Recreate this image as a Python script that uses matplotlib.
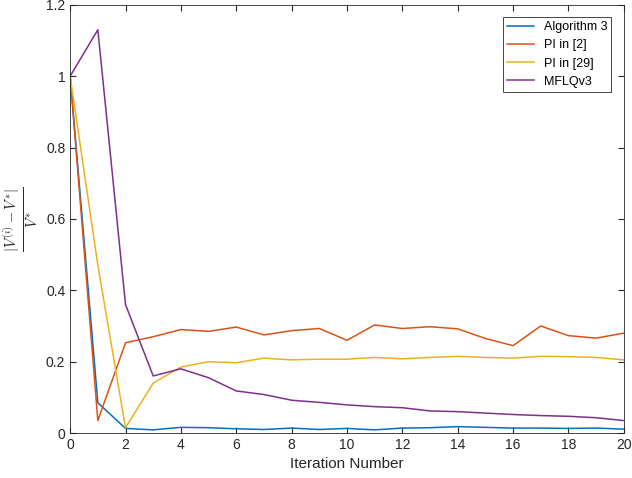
import matplotlib
matplotlib.use("Agg")
import matplotlib.pyplot as plt

plt.rcParams['font.family'] = ['Liberation Sans', 'DejaVu Sans']
plt.rcParams['mathtext.fontset'] = 'cm'

iters = list(range(21))
alg3 = [1, 0.085, 0.013, 0.009, 0.016, 0.015, 0.012, 0.010, 0.014, 0.010, 0.013, 0.009, 0.014, 0.015, 0.018, 0.016, 0.014, 0.014, 0.013, 0.014, 0.011]
pi2 = [1, 0.035, 0.253, 0.270, 0.290, 0.285, 0.297, 0.275, 0.287, 0.293, 0.260, 0.303, 0.293, 0.298, 0.292, 0.265, 0.245, 0.300, 0.273, 0.266, 0.280]
pi29 = [1, 0.47, 0.015, 0.140, 0.185, 0.200, 0.197, 0.210, 0.205, 0.207, 0.207, 0.212, 0.208, 0.212, 0.215, 0.212, 0.210, 0.215, 0.214, 0.212, 0.205]
mflq = [1, 1.13, 0.36, 0.160, 0.180, 0.155, 0.118, 0.108, 0.092, 0.086, 0.079, 0.074, 0.071, 0.062, 0.060, 0.056, 0.052, 0.049, 0.047, 0.043, 0.035]
labels = ['Algorithm 3', 'PI in [2]', 'PI in [29]', 'MFLQv3']
colors = ['#0072BD', '#D95319', '#EDB120', '#7E2F8E']

fig = plt.figure(figsize=(6.32, 4.78), dpi=100)
ax = fig.add_axes([0.111, 0.094, 0.876, 0.896])
for s, l, c in zip([alg3, pi2, pi29, mflq], labels, colors):
    ax.plot(iters, s, color=c, lw=1.1, label=l)
ax.set_xlim(0, 20)
ax.set_ylim(0, 1.2)
ax.set_xticks(range(0, 21, 2))
ax.set_yticks([0, 0.2, 0.4, 0.6, 0.8, 1.0, 1.2])
ax.set_yticklabels(['0', '0.2', '0.4', '0.6', '0.8', '1', '1.2'])
ax.tick_params(direction='in', top=True, right=True, labelsize=10, colors='#262626', length=4)
for sp in ax.spines.values():
    sp.set_color('#262626'); sp.set_linewidth(0.6)
ax.set_xlabel('Iteration Number', fontsize=11, color='#262626')
ax.set_ylabel(r'$\frac{|V^{(i)}-V^{*}|}{V^{*}}$', fontsize=15, color='#262626')
leg = ax.legend(loc='upper right', fontsize=9, fancybox=False, edgecolor='#262626', framealpha=1,
                borderpad=0.3, handlelength=2.2, borderaxespad=1.0)
leg.get_frame().set_linewidth(0.6)
fig.savefig('out.png', dpi=100)
